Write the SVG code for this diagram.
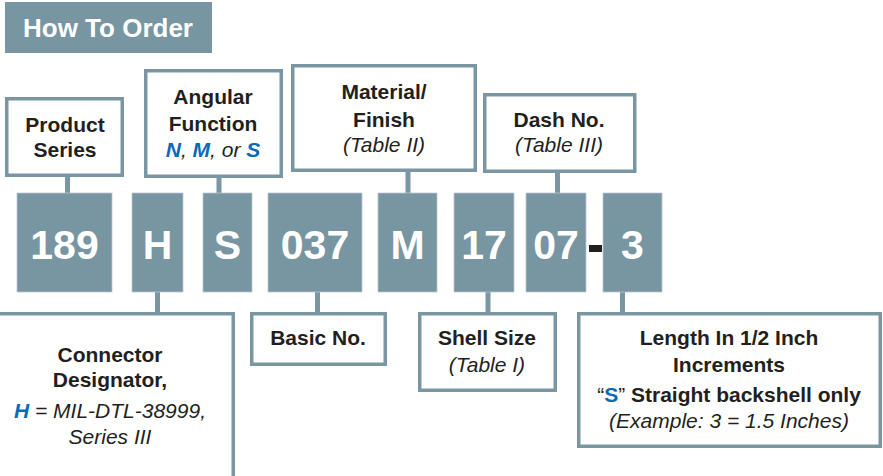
<svg xmlns="http://www.w3.org/2000/svg" width="883" height="476" viewBox="0 0 883 476">
<style>
.box{fill:#fff;stroke:#7a96a3;stroke-width:3.5}
.code{fill:#7895a2;stroke:#b9c9d0;stroke-width:0.8}
.ln{stroke:#7a96a3;stroke-width:5}
text{font-family:"Liberation Sans",Arial,sans-serif;text-anchor:middle}
.t{font-size:21px;font-weight:bold;fill:#231f20}
.i{font-size:21px;font-style:italic;fill:#231f20}
.c{font-size:41px;font-weight:bold;fill:#fff}
.b{fill:#0a6ab6;font-weight:bold}
</style>
<g id="title">
<rect x="5" y="2" width="207" height="51" fill="#7895a2"/>
<text x="108" y="37" style="font-size:26px;font-weight:bold;fill:#fff">How To Order</text>
</g>
<g id="connectors">
<line class="ln" x1="67.5" y1="176" x2="67.5" y2="194"/>
<line class="ln" x1="219" y1="176" x2="219" y2="194"/>
<line class="ln" x1="408" y1="171" x2="408" y2="194"/>
<line class="ln" x1="557.5" y1="171" x2="557.5" y2="194"/>
<line class="ln" x1="157.5" y1="291" x2="157.5" y2="314"/>
<line class="ln" x1="317.5" y1="291" x2="317.5" y2="314"/>
<line class="ln" x1="488" y1="291" x2="488" y2="314"/>
<line class="ln" x1="622.5" y1="291" x2="622.5" y2="314"/>
</g>
<g id="product-series">
<rect class="box" x="6.75" y="98.75" width="115.5" height="76.5"/>
<text class="t" x="65" y="132">Product</text>
<text class="t" x="65" y="157">Series</text>
</g>
<g id="angular-function">
<rect class="box" x="145.75" y="70.75" width="135.5" height="105.5"/>
<text class="t" x="213" y="104">Angular</text>
<text class="t" x="213" y="131">Function</text>
<text class="i" x="213" y="157"><tspan class="b">N</tspan>, <tspan class="b">M</tspan>, or <tspan class="b">S</tspan></text>
</g>
<g id="material-finish">
<rect class="box" x="292.75" y="65.75" width="182.5" height="104.5"/>
<text class="t" x="384" y="99">Material/</text>
<text class="t" x="384" y="127">Finish</text>
<text class="i" x="384" y="152">(Table II)</text>
</g>
<g id="dash-no">
<rect class="box" x="484.75" y="94.75" width="150" height="76.5"/>
<text class="t" x="559" y="127">Dash No.</text>
<text class="i" x="559" y="152">(Table III)</text>
</g>
<g id="code-189"><rect class="code" x="17" y="193" width="95" height="99"/><text class="c" x="64.5" y="259">189</text></g>
<g id="code-H"><rect class="code" x="132" y="193" width="51" height="99"/><text class="c" x="157.5" y="259">H</text></g>
<g id="code-S"><rect class="code" x="203" y="193" width="49" height="99"/><text class="c" x="227.5" y="259">S</text></g>
<g id="code-037"><rect class="code" x="268" y="193" width="94" height="99"/><text class="c" x="315" y="259">037</text></g>
<g id="code-M"><rect class="code" x="378" y="193" width="59" height="99"/><text class="c" x="407.5" y="259">M</text></g>
<g id="code-17"><rect class="code" x="454" y="193" width="60" height="99"/><text class="c" x="484" y="259">17</text></g>
<g id="code-07"><rect class="code" x="526" y="193" width="60" height="99"/><text class="c" x="556" y="259">07</text></g>
<g id="dash"><rect x="589" y="245" width="13" height="7" fill="#231f20"/></g>
<g id="code-3"><rect class="code" x="603" y="193" width="59" height="99"/><text class="c" x="632.5" y="259">3</text></g>
<g id="connector-designator">
<rect class="box" x="-5" y="313.75" width="238.25" height="170"/>
<text class="t" x="110" y="362">Connector</text>
<text class="t" x="110" y="387">Designator,</text>
<text class="i" x="110" y="418"><tspan class="b">H</tspan> = MIL-DTL-38999,</text>
<text class="i" x="110" y="444">Series III</text>
</g>
<g id="basic-no">
<rect class="box" x="251.75" y="313.75" width="133.5" height="50.5"/>
<text class="t" x="318" y="345">Basic No.</text>
</g>
<g id="shell-size">
<rect class="box" x="419.75" y="313.75" width="135.5" height="76.5"/>
<text class="t" x="487" y="345">Shell Size</text>
<text class="i" x="487" y="372">(Table I)</text>
</g>
<g id="length">
<rect class="box" x="578.75" y="313.75" width="301.5" height="132.5"/>
<text class="t" x="729" y="345">Length In 1/2 Inch</text>
<text class="t" x="729" y="372">Increments</text>
<text class="t" x="729" y="402"><tspan style="font-weight:normal">“</tspan><tspan class="b">S</tspan><tspan style="font-weight:normal">”</tspan> Straight backshell only</text>
<text class="i" x="729" y="428">(Example: 3 = 1.5 Inches)</text>
</g>
</svg>
